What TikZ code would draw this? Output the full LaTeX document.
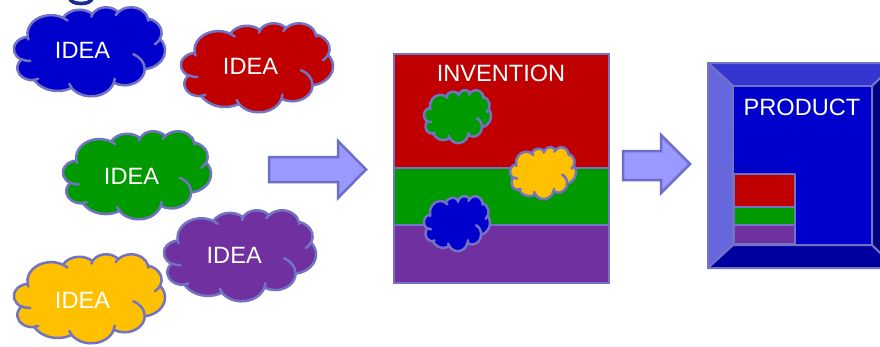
\documentclass[tikz,border=0pt]{standalone}
\usepackage{fontspec}
\setmainfont{Liberation Sans}

\definecolor{outline}{HTML}{7373C6}
\definecolor{ideablue}{HTML}{0000CC}
\definecolor{ideared}{HTML}{C00000}
\definecolor{ideagreen}{HTML}{009900}
\definecolor{ideapurple}{HTML}{7030A0}
\definecolor{ideayellow}{HTML}{FFC000}
\definecolor{arrowfill}{HTML}{9999FF}
\definecolor{arrowline}{HTML}{6E6EC8}
\definecolor{bevtop}{HTML}{3535D0}
\definecolor{bevleft}{HTML}{6666DD}
\definecolor{bevbottom}{HTML}{00009E}
\definecolor{bevright}{HTML}{000080}
\definecolor{titleblue}{HTML}{1A2A96}

% elliptical arc given by radii and visual start/sweep angles (degrees)
\newcommand\ooarc[4]{arc[start angle={pang(#3,#1,#2)}, end angle={pang(#3+#4,#1,#2)}, x radius=#1, y radius=#2]}

% cloud in a 43.2 x 43.2 local box: x, y (top left), width, height, fill
\newcommand\ideacloud[5]{%
  \begin{scope}[shift={(#1,#2)}, x=#3/43.2*1pt, y=-#4/43.2*1pt]
    \filldraw[cloudline, fill=#5] (3.900,14.370)
      \ooarc{6.753}{9.190}{-190.4875}{123.7805}
      \ooarc{5.333}{7.267}{-144.1024}{89.9452}
      \ooarc{4.365}{5.945}{-145.8079}{99.7230}
      \ooarc{4.857}{6.595}{-130.9861}{117.2417}
      \ooarc{5.333}{7.273}{-78.7089}{109.0269}
      \ooarc{6.775}{9.220}{-46.2673}{130.2690}
      \ooarc{5.785}{7.867}{0.6250}{114.0333}
      \ooarc{6.752}{9.215}{22.4516}{115.1726}
      \ooarc{7.720}{10.543}{66.2426}{75.7110}
      \ooarc{4.360}{5.918}{-274.9421}{146.7356}
      \ooarc{4.345}{5.945}{-246.8285}{152.5189}
      -- cycle;
    \draw[cloudline]
      (4.693,26.177) \ooarc{4.345}{5.945}{86.7420}{26.4295}
      (6.928,34.899) \ooarc{4.360}{5.918}{73.6105}{11.4475}
      (16.478,39.090) \ooarc{6.752}{9.215}{137.6242}{14.0811}
      (28.827,34.751) \ooarc{6.752}{9.215}{6.4533}{15.9984}
      (34.129,22.954) \ooarc{5.785}{7.867}{-70.2924}{70.9174}
      (41.798,15.354) \ooarc{5.333}{7.273}{30.3180}{27.7515}
      (38.324,5.426) \ooarc{4.857}{6.595}{-13.7443}{14.8589}
      (29.078,3.952) \ooarc{4.857}{6.595}{-149.1815}{18.1954}
      (22.141,4.720) \ooarc{4.365}{5.945}{-163.4943}{17.6864}
      (14.000,5.192) \ooarc{6.753}{9.190}{-66.7070}{12.3194}
      (4.127,15.789) \ooarc{6.753}{9.190}{157.6544}{11.8582};
  \end{scope}}

\begin{document}
\begin{tikzpicture}[x=1pt, y=-1pt,
  declare function={pang(\a,\w,\h)=\a+atan((\w-\h)*sin(\a)*cos(\a)/(\h*(cos(\a))^2+\w*(sin(\a))^2));},
  cloudline/.style={draw=outline, line width=2.5pt, line join=round, line cap=round},
  label/.style={text=white, inner sep=0pt, anchor=base, font=\fontsize{23.6}{28}\selectfont},
  band/.style={draw=outline, line width=2.6pt},
  blockarrow/.style={draw=arrowline, fill=arrowfill, line width=2.5pt, line join=miter},
  bevel/.style={draw=outline, line width=2pt, line join=round}]

\useasboundingbox (0,0) rectangle (880,346);
\fill[white] (0,0) rectangle (880,346);
\clip (0,0) rectangle (880,346);

% foot of the heading's letter above the picture
\fill[titleblue] (68,-1) .. controls (70,7.5) and (92,7.5) .. (94,-1)
  -- (89.5,-1) .. controls (88,2.5) and (74,2.5) .. (72.5,-1) -- cycle;

% ideas
\ideacloud{14}{7}{151}{89}{ideablue}
\ideacloud{181}{23}{152}{89}{ideared}
\ideacloud{63}{131}{148}{88}{ideagreen}
\ideacloud{164}{210}{152}{91}{ideapurple}
\ideacloud{14}{254}{151}{89}{ideayellow}
\node[label] (ideaA) at (82.5,58) {IDEA};
\node[label] (ideaB) at (250.5,74) {IDEA};
\node[label] (ideaC) at (131.5,184.3) {IDEA};
\node[label] (ideaD) at (234.2,263.3) {IDEA};
\node[label] (ideaE) at (82.5,308.3) {IDEA};

% arrow towards the invention
\draw[blockarrow] (269,157) -- (338,157) -- (338,141) -- (366,169.5)
  -- (338,198) -- (338,182) -- (269,182) -- cycle;

% invention: three bands with ideas merged in
\draw[band, fill=ideared] (394,54) rectangle (609,168);
\draw[band, fill=ideagreen] (394,168) rectangle (609,225);
\draw[band, fill=ideapurple] (394,225) rectangle (609,283);
\ideacloud{424}{90}{67}{53}{ideagreen}
\ideacloud{510}{147}{66}{52}{ideayellow}
\ideacloud{424}{196}{66}{55}{ideablue}
\node[label] (invention) at (501,81.7) {INVENTION};

% arrow towards the product
\draw[blockarrow] (623,151) -- (661,151) -- (661,135) -- (690,164)
  -- (661,193) -- (661,180) -- (623,180) -- cycle;

% product: bevelled box
\draw[bevel, fill=bevtop] (708,63) -- (896,63) -- (872,86) -- (733,86) -- cycle;
\draw[bevel, fill=bevleft] (708,63) -- (733,86) -- (733,245) -- (708,268) -- cycle;
\draw[bevel, fill=bevbottom] (708,268) -- (733,245) -- (872,245) -- (896,268) -- cycle;
\draw[bevel, fill=bevright] (896,63) -- (872,86) -- (872,245) -- (896,268) -- cycle;
\draw[bevel, fill=ideablue] (733,86) rectangle (872,245);
\draw[bevel, fill=ideared] (734,174) rectangle (795,207);
\draw[bevel, fill=ideagreen] (734,207) rectangle (795,224.5);
\draw[bevel, fill=ideapurple] (734,224.5) rectangle (795,244);
\node[label] (product) at (802,115) {PRODUCT};

\end{tikzpicture}
\end{document}
